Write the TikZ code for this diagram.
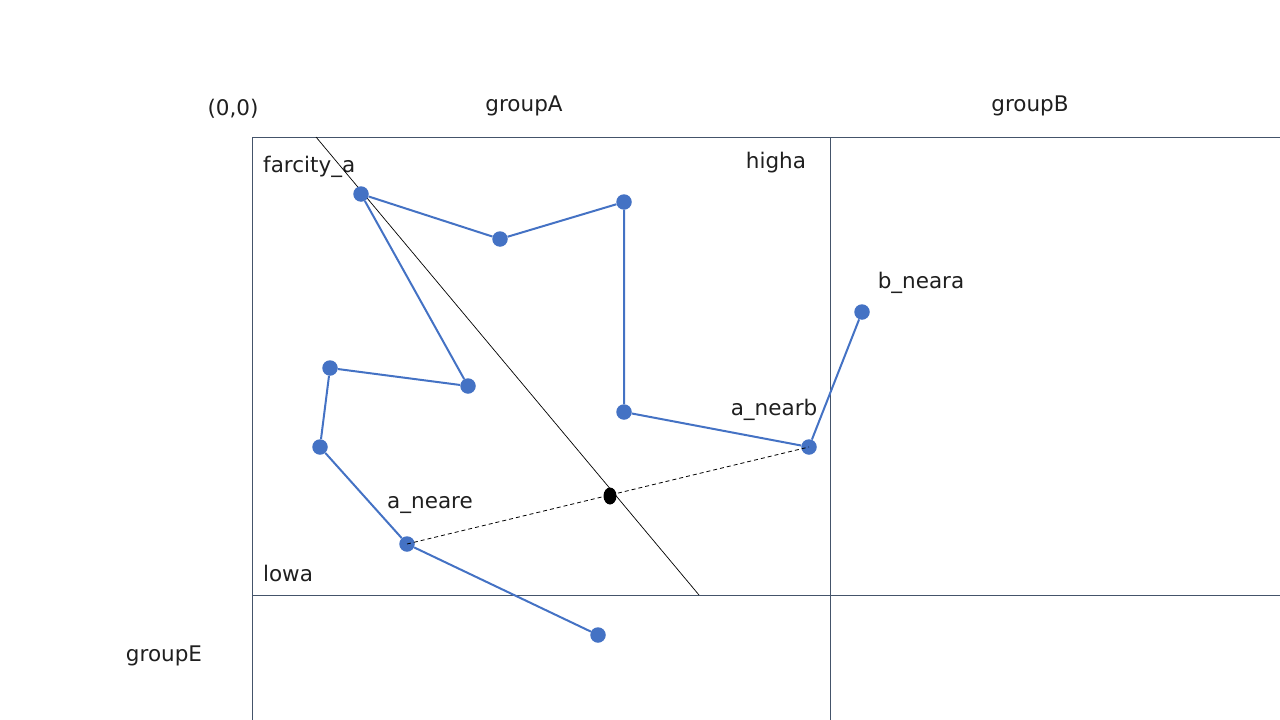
\documentclass[tikz,border=0pt]{standalone}
\usepackage{fontspec}
\setmainfont{DejaVu Sans}
\usetikzlibrary{shapes.geometric}
\begin{document}
\begin{tikzpicture}[x=1pt,y=-1pt,
  frame/.style={draw=framegray, line width=1pt},
  pt/.style={circle, fill=ptblue, inner sep=0pt, minimum size=15.5pt},
  link/.style={draw=ptblue, line width=2pt},
  lbl/.style={font=\fontsize{21.5}{25}\selectfont, text=black!88, inner sep=0pt}]
\definecolor{ptblue}{HTML}{4472C4}
\definecolor{framegray}{HTML}{44546A}
\useasboundingbox (0,0) rectangle (1280,720);
% grid
\coordinate (tl) at (252,137); \coordinate (tr) at (1280,137);
\coordinate (bl) at (252,720); \coordinate (ml) at (252,595);
\coordinate (mr) at (1280,595); \coordinate (vt) at (830,137);
\coordinate (vb) at (830,720);
\draw[frame] (tr) -- (tl) -- (bl);
\draw[frame] (ml) -- (mr);
\draw[frame] (vt) -- (vb);
% labels
\node[lbl] (o) at (233,109) {(0,0)};
\node[lbl] (gA) at (524,106) {groupA};
\node[lbl] (gB) at (1030,106) {groupB};
\node[lbl] (gE) at (164,656) {groupE};
\node[lbl, anchor=west] (fa) at (263,167) {farcity\_a};
\node[lbl] (ha) at (776,163) {higha};
\node[lbl] (bn) at (921,283) {b\_neara};
\node[lbl] (an) at (774,410) {a\_nearb};
\node[lbl] (ae) at (430,505) {a\_neare};
\node[lbl] (lo) at (288,573) {lowa};
% cut line
\coordinate (c1) at (316,137); \coordinate (c2) at (699,595);
\draw[black, line width=0.7pt] (c1) -- (c2);
% points
\node[pt] (p1) at (361,194) {};
\node[pt] (p2) at (500,239) {};
\node[pt] (p3) at (624,202) {};
\node[pt] (p4) at (624,412) {};
\node[pt] (p5) at (809,447) {};
\node[pt] (p6) at (862,312) {};
\node[pt] (p7) at (468,386) {};
\node[pt] (p8) at (330,368) {};
\node[pt] (p9) at (320,447) {};
\node[pt] (p10) at (407,544) {};
\node[pt] (p11) at (598,635) {};
\draw[link] (p3) -- (p2) -- (p1) -- (p7) -- (p8) -- (p9) -- (p10) -- (p11);
\draw[link] (p3) -- (p4) -- (p5) -- (p6);
\draw[black, line width=0.8pt, dash pattern=on 4pt off 3pt] (p10.center) -- (p5.center);
\node[ellipse, fill=black, inner sep=0pt, minimum width=13pt, minimum height=17pt] (m) at (610,496) {};
\end{tikzpicture}
\end{document}
